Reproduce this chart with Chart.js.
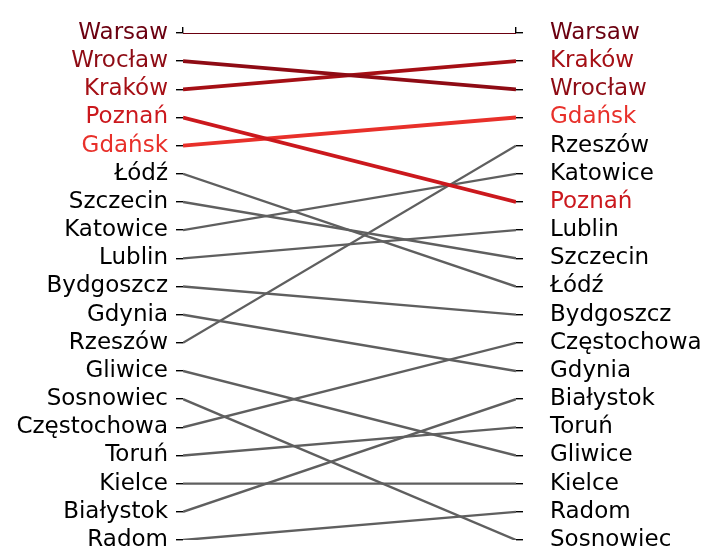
<!DOCTYPE html>
<html>
<head>
<meta charset="utf-8">
<script src="https://cdn.jsdelivr.net/npm/chart.js@4/dist/chart.umd.min.js"></script>
<style>
html,body{margin:0;padding:0;background:#fff;}
#wrap{width:718px;height:558px;position:relative;}
</style>
</head>
<body>
<div id="wrap"><canvas id="c" width="718" height="558"></canvas></div>
<script>
const cities = ["Warsaw","Wrocław","Kraków","Poznań","Gdańsk","Łódź","Szczecin","Katowice","Lublin","Bydgoszcz","Gdynia","Rzeszów","Gliwice","Sosnowiec","Częstochowa","Toruń","Kielce","Białystok","Radom"];
const rankBefore = [1,2,3,4,5,6,7,8,9,10,11,12,13,14,15,16,17,18,19];
const rankAfter  = [1,3,2,7,4,10,9,6,8,11,13,5,16,19,12,15,17,14,18];
const highlightColors = {"Warsaw":"#6b0010","Wrocław":"#8e0b14","Kraków":"#a50f15","Poznań":"#cb181d","Gdańsk":"#e8302a"};
const greyColor = "#5f5f5f";

function colorOf(name){ return highlightColors[name] || greyColor; }
function labelColorOf(name){ return highlightColors[name] || "#000000"; }
function nameAt(ranks, r){ const i = ranks.indexOf(r); return i >= 0 ? cities[i] : ""; }

const datasets = cities.map((name,i)=>({
  label: name,
  data: [{x:0,y:rankBefore[i]},{x:1,y:rankAfter[i]}],
  borderColor: colorOf(name),
  borderWidth: highlightColors[name] ? (name==="Warsaw"?2.2:3.8) : 2.4,
  pointRadius: 0,
  fill: false,
  tension: 0,
  order: highlightColors[name] ? 0 : 1
}));

const font = {family: "'DejaVu Sans', sans-serif", size: 23};

function noPad(s){ s.paddingTop = 0; s.paddingBottom = 0; }

new Chart(document.getElementById('c'), {
  type: 'line',
  data: {datasets},
  options: {
    responsive: false,
    animation: false,
    layout: {padding: {left:0, right:0, top:0, bottom:18}},
    plugins: {legend:{display:false}, tooltip:{enabled:false}},
    scales: {
      x: {
        type: 'linear', position: 'top', min: 0, max: 1,
        afterBuildTicks: s => { s.ticks = [{value:0},{value:1}]; },
        afterFit: s => { s.height = 33; s.paddingLeft = 0; s.paddingRight = 0; },
        ticks: {display:false},
        grid: {drawOnChartArea:false, tickLength:6, color:'#000', lineWidth:1.4},
        border: {display:false}
      },
      y: {
        type: 'linear', position: 'left', min: 1, max: 19, reverse: true,
        afterBuildTicks: s => { s.ticks = rankBefore.map(v=>({value:v})); },
        afterFit: s => { s.width = 183; noPad(s); },
        ticks: {
          autoSkip:false, padding:8, font,
          callback: v => nameAt(rankBefore, v),
          color: ctx => labelColorOf(nameAt(rankBefore, ctx.tick.value))
        },
        grid: {drawOnChartArea:false, tickLength:7, color:'#000', lineWidth:1.4},
        border: {display:false}
      },
      y2: {
        type: 'linear', position: 'right', min: 1, max: 19, reverse: true,
        afterBuildTicks: s => { s.ticks = rankAfter.slice().sort((a,b)=>a-b).map(v=>({value:v})); },
        afterFit: s => { s.width = 202; noPad(s); },
        ticks: {
          autoSkip:false, padding:27, font,
          callback: v => nameAt(rankAfter, v),
          color: ctx => labelColorOf(nameAt(rankAfter, ctx.tick.value))
        },
        grid: {drawOnChartArea:false, tickLength:7, color:'#000', lineWidth:1.4},
        border: {display:false}
      }
    }
  }
});
</script>
</body>
</html>
